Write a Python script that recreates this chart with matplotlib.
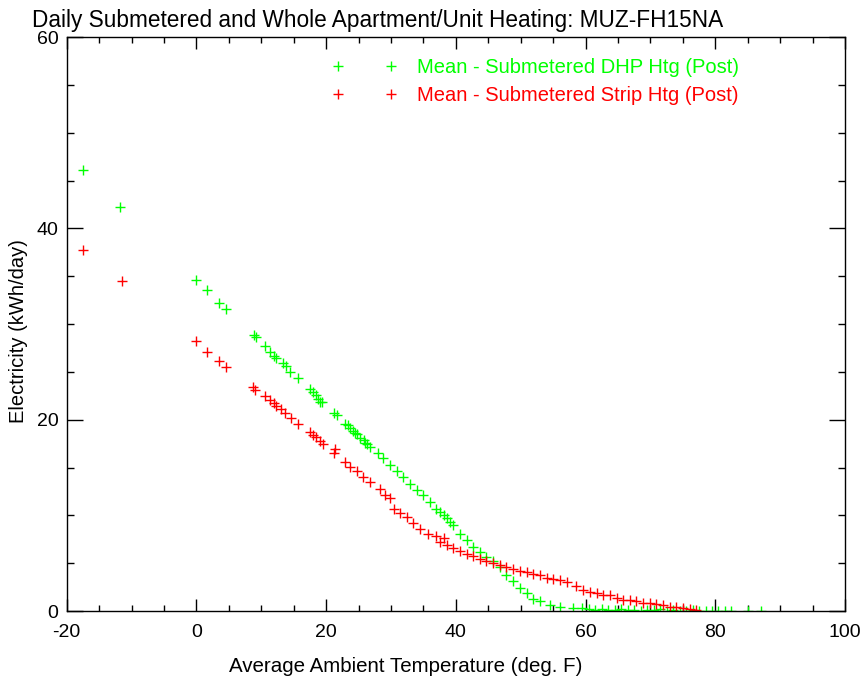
import matplotlib
matplotlib.use("Agg")
import matplotlib.pyplot as plt
from matplotlib.ticker import MultipleLocator

# (deg F, kWh/day)
dhp_temp = [-17.5, -11.8, 0.0, 1.6, 3.5, 4.6, 8.9, 9.2, 10.5, 11.3, 12.0, 12.3,
            13.4, 13.8, 14.5, 15.7, 17.5, 18.0, 18.4, 18.8, 19.1, 19.4,
            21.2, 21.6, 22.9, 23.3, 23.7, 24.2, 24.5, 24.8, 25.2, 25.8, 26.0,
            26.3, 26.8, 28.0, 28.8, 29.8, 30.9, 31.9, 32.9, 34.0, 35.0, 36.0,
            37.0, 37.6, 38.1, 38.6, 39.1, 39.6, 40.6, 41.7, 42.7, 43.7, 44.7,
            45.8, 46.8, 47.8, 48.8, 49.9, 50.9, 51.9, 53.0, 54.5, 56.0,
            58.1, 59.5, 60.5, 61.5, 62.5, 63.5, 64.5, 65.5, 66.5, 67.5,
            68.5, 69.5, 70.5, 71.5, 72.5, 73.5, 74.5, 75.5, 76.5, 77.5,
            78.5, 79.5, 80.5, 81.5, 82.5, 85.0, 87.0]
dhp_kwh = [46.1, 42.2, 34.6, 33.6, 32.2, 31.6, 28.9, 28.6, 27.7, 27.1, 26.7, 26.4,
           25.9, 25.6, 25.0, 24.4, 23.2, 22.9, 22.6, 22.2, 21.9, 21.8,
           20.7, 20.5, 19.6, 19.4, 19.1, 18.8, 18.6, 18.5, 18.1, 17.9, 17.6,
           17.5, 17.1, 16.5, 16.0, 15.3, 14.6, 14.0, 13.3, 12.7, 12.1, 11.4,
           10.7, 10.4, 10.0, 9.7, 9.3, 9.0, 8.1, 7.4, 6.7, 6.2, 5.6,
           5.2, 4.6, 3.8, 3.1, 2.4, 1.9, 1.3, 1.0, 0.6, 0.45,
           0.3, 0.3, 0.2, 0.15, 0.25, 0.1, 0.1, 0.2, 0.1, 0.15,
           0.05, 0.1, 0.1, 0.2, 0.05, 0.1, 0.0, 0.05, 0.1, 0.0,
           0.05, 0.0, 0.05, 0.0, 0.0, 0.0, 0.0]

strip_temp = [-17.5, -11.5, 0.0, 1.6, 3.5, 4.6, 8.8, 9.0, 10.5, 11.4, 11.9, 12.2,
              13.0, 13.7, 14.6, 15.7, 17.5, 17.9, 18.4, 19.0, 19.5,
              21.2, 21.4, 22.9, 23.7, 24.7, 25.7, 26.8, 28.3, 29.1, 29.8,
              30.4, 31.4, 32.4, 33.4, 34.5, 35.7, 37.0, 37.6, 38.1, 38.6,
              39.6, 40.6, 41.7, 42.7, 43.7, 44.7, 45.8, 46.8, 47.8, 48.8,
              49.9, 50.9, 51.9, 53.0, 54.0, 55.0, 56.0, 57.1, 58.6, 59.6,
              60.7, 61.7, 62.7, 63.7, 64.8, 65.8, 66.8, 67.8, 68.9, 69.9,
              70.9, 72.0, 73.0, 74.0, 75.0, 76.1, 77.1]
strip_kwh = [37.7, 34.5, 28.2, 27.1, 26.1, 25.5, 23.4, 23.1, 22.5, 22.1, 21.7, 21.4,
             21.1, 20.7, 20.2, 19.5, 18.7, 18.4, 18.2, 17.8, 17.5,
             16.5, 16.9, 15.6, 15.1, 14.6, 14.0, 13.5, 12.8, 12.1, 11.8,
             10.7, 10.2, 9.8, 9.2, 8.6, 8.1, 7.8, 7.2, 7.6, 6.9,
             6.6, 6.3, 6.0, 5.7, 5.4, 5.2, 5.0, 4.8, 4.6, 4.4,
             4.2, 4.1, 3.9, 3.8, 3.5, 3.3, 3.2, 3.0, 2.6, 2.2,
             2.0, 1.85, 1.7, 1.65, 1.35, 1.2, 1.15, 1.0, 0.85, 0.8,
             0.7, 0.6, 0.45, 0.4, 0.3, 0.2, 0.1]

plt.rcParams['font.family'] = ['Liberation Sans', 'DejaVu Sans']
plt.rcParams['axes.unicode_minus'] = False

fig = plt.figure(figsize=(8.63, 6.78), dpi=100)
ax = fig.add_axes([0.0773, 0.0988, 0.9018, 0.8466])

ax.plot(dhp_temp, dhp_kwh, ls='none', marker='+', ms=6.5, mew=1.0,
        color='#00ff00', label='Mean - Submetered DHP Htg (Post)')
ax.plot(strip_temp, strip_kwh, ls='none', marker='+', ms=6.5, mew=1.0,
        color='#ff0000', label='Mean - Submetered Strip Htg (Post)')

ax.set_xlim(-20, 100)
ax.set_ylim(0, 60)
ax.xaxis.set_major_locator(MultipleLocator(20))
ax.xaxis.set_minor_locator(MultipleLocator(5))
ax.yaxis.set_major_locator(MultipleLocator(20))
ax.yaxis.set_minor_locator(MultipleLocator(5))
ax.tick_params(axis='both', which='both', direction='in', top=True, right=True,
               width=1.0, labelsize=14)
ax.tick_params(axis='x', which='major', length=8.6, pad=9)
ax.tick_params(axis='x', which='minor', length=4.3)
ax.tick_params(axis='y', which='major', length=11.5, pad=6)
ax.tick_params(axis='y', which='minor', length=5)
for s in ax.spines.values():
    s.set_linewidth(1.0)

leg = ax.legend(loc='upper left', bbox_to_anchor=(0.341, 0.9635), frameon=False,
                numpoints=2, handlelength=3.24, handletextpad=1.0, labelspacing=0.46,
                borderpad=0, borderaxespad=0, fontsize=14.5, labelcolor='linecolor')

fig.text(378 / 863, 1 - 27 / 678, 'Daily Submetered and Whole Apartment/Unit Heating: MUZ-FH15NA',
         fontsize=16.3, ha='center', va='baseline')
fig.text(406 / 863, 1 - 672 / 678, 'Average Ambient Temperature (deg. F)',
         fontsize=14.8, ha='center', va='baseline')
fig.text(19 / 863, 1 - 423 / 678, 'Electricity (kWh/day)', rotation=90,
         fontsize=14.5, ha='center', va='bottom')

fig.savefig('out.png', dpi=100)
